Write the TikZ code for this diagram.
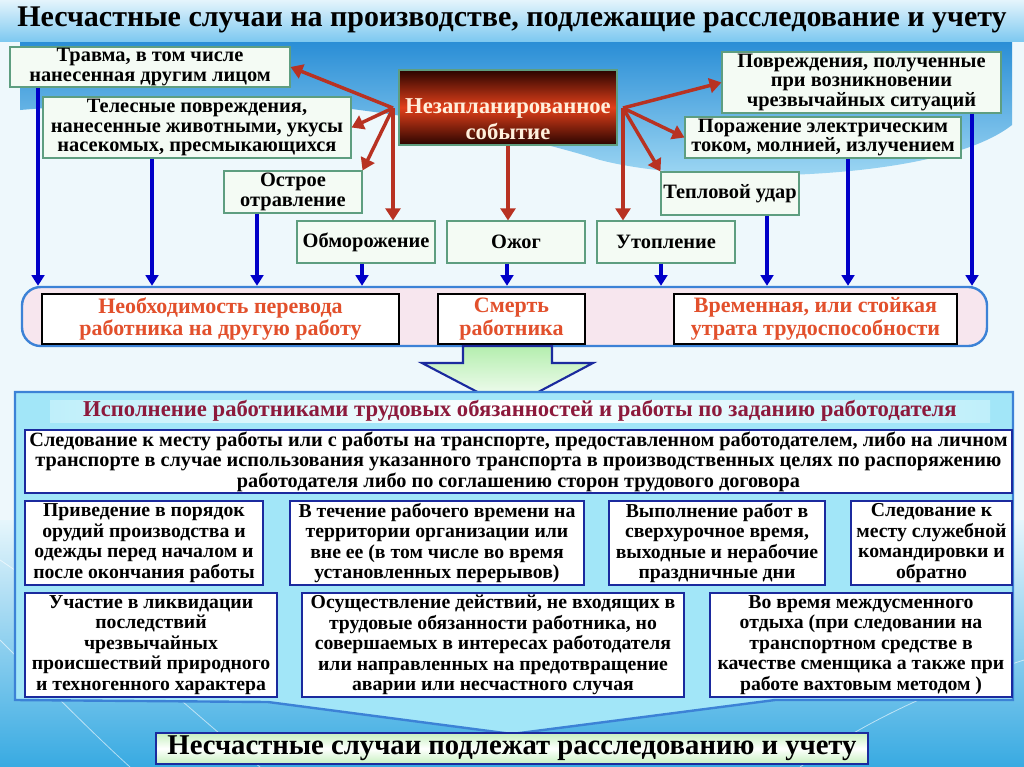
\documentclass[tikz,border=0pt]{standalone}
\usepackage{fontspec}
\setmainfont{Liberation Serif}
\usetikzlibrary{arrows.meta}
\definecolor{bgpale}{HTML}{EEF8FC}
\definecolor{bandtop}{HTML}{E4F4FC}
\definecolor{bandlow}{HTML}{7CC8F0}
\definecolor{swooshtop}{HTML}{2A8ED6}
\definecolor{swooshlow}{HTML}{A6DCF5}
\definecolor{seatop}{HTML}{E6F6FC}
\definecolor{sealow}{HTML}{38AAE2}
\definecolor{boxgreen}{HTML}{5E9E80}
\definecolor{boxfill}{HTML}{F4FBF4}
\definecolor{evdark}{HTML}{2A0400}
\definecolor{evred}{HTML}{E2401A}
\definecolor{evtext}{HTML}{FFF0DC}
\definecolor{arrred}{HTML}{B83222}
\definecolor{arrblue}{HTML}{0000C8}
\definecolor{outline}{HTML}{3C82D6}
\definecolor{outfill}{HTML}{F7E6EE}
\definecolor{outtext}{HTML}{E2502C}
\definecolor{lowfill}{HTML}{A2E6F8}
\definecolor{lowline}{HTML}{1B2A9E}
\definecolor{headtext}{HTML}{8C1A3C}
\definecolor{headside}{HTML}{BFEFFA}
\definecolor{finalgreen}{HTML}{C6F0BE}
\definecolor{bigarrtop}{HTML}{B4EEAE}
\begin{document}
\begin{tikzpicture}[x=0.75pt,y=0.75pt,yscale=-1,
  sz/.style 2 args={minimum width=#1*0.75pt,minimum height=#2*0.75pt},
  topbox/.style={draw=boxgreen,fill=boxfill,line width=0.8pt,inner sep=0pt,align=center,
    font=\fontsize{15.3}{14.4}\selectfont\bfseries},
  resultbox/.style={draw=black,fill=white,line width=2.2pt,inner sep=0pt,align=center,
    text=outtext,font=\fontsize{16.5}{17}\selectfont\bfseries},
  lowbox/.style={draw=lowline,fill=white,line width=2.2pt,inner sep=0pt,align=center,
    font=\fontsize{14.8}{15.4}\selectfont\bfseries},
  redarr/.style={draw=arrred,line width=2.6pt,-{Triangle[length=9pt,width=11pt]}},
  bluearr/.style={draw=arrblue,line width=2.4pt,-{Triangle[length=8pt,width=9.5pt]}}]
\useasboundingbox (0,0) rectangle (1024,767);
\fill[bgpale] (0,0) rectangle (1024,767);
\shade[top color=seatop,bottom color=sealow] (0,520) rectangle (1024,767);
\shade[top color=swooshtop,bottom color=swooshlow] (20,42) -- (1012,42) -- (1012,125) .. controls (940,182) and (700,186) .. (600,160) .. controls (480,122) and (250,84) .. (70,100) -- (70,106) -- (20,110) -- cycle;
\shade[top color=bandtop,bottom color=bandlow] (0,0) rectangle (1024,42);
\draw[white,line width=0.6pt,opacity=0.6] (0,560) .. controls (120,640) and (200,720) .. (260,767);
\draw[white,line width=0.6pt,opacity=0.6] (0,640) .. controls (60,700) and (100,740) .. (130,767);
\draw[white,line width=0.6pt,opacity=0.6] (1024,660) .. controls (900,700) and (840,740) .. (800,767);

\node[font=\fontsize{22.5}{24}\selectfont\bfseries] (title) at (512,20) {Несчастные случаи на производстве, подлежащие расследование и учету};

\node[topbox,sz={280}{40}] (trauma) at (150,67) {Травма, в том числе\\нанесенная другим лицом};
\node[topbox,sz={308}{61}] (injury) at (197,127.5) {Телесные повреждения,\\нанесенные животными, укусы\\насекомых, пресмыкающихся};
\node[topbox,sz={138}{42}] (poison) at (293,192) {Острое\\отравление};
\node[topbox,sz={138}{42}] (frost) at (366,242) {Обморожение};
\node[topbox,sz={138}{42}] (burn) at (516,242) {Ожог};
\node[topbox,sz={138}{42}] (drown) at (666,242) {Утопление};
\node[topbox,sz={138}{43}] (heat) at (730,193.5) {Тепловой удар};
\node[topbox,sz={276}{41}] (elec) at (823,137.5) {Поражение электрическим\\током, молнией, излучением};
\node[topbox,sz={279}{61}] (emerg) at (861.5,82.5) {Повреждения, полученные\\при возникновении\\чрезвычайных ситуаций};
\node[draw=boxgreen,line width=0.8pt,top color=evdark,bottom color=evdark,middle color=evred,
  sz={218}{75},inner sep=0pt] (event) at (508,107.5) {};
\node[align=center,text=evtext,inner sep=0pt,font=\fontsize{17}{19.5}\selectfont\bfseries] (eventtext) at (508,119) {Незапланированное\\событие};

\coordinate (hubL) at (393,108);
\coordinate (hubR) at (623,108);
\draw[redarr] (hubL) -- (trauma.east);
\draw[redarr] (hubL) -- (injury.east);
\draw[redarr] (hubL) -- (poison.north east);
\draw[redarr] (hubL) -- (hubL |- frost.north);
\draw[redarr] (event.south) -- (event.south |- burn.north);
\draw[redarr] (hubR) -- (emerg.west);
\draw[redarr] (hubR) -- (elec.west);
\draw[redarr] (hubR) -- (heat.north west);
\draw[redarr] (hubR) -- (hubR |- drown.north);

\node[draw=outline,fill=outfill,line width=1.8pt,rounded corners=14pt,sz={965}{59}] (outcome) at (504.5,316.5) {};
\node[resultbox,sz={357}{50}] (transfer) at (220.5,319) {Необходимость перевода\\работника на другую работу};
\node[resultbox,sz={147}{50}] (death) at (511.5,319) {Смерть\\работника};
\node[resultbox,sz={283}{50}] (disab) at (815.5,319) {Временная, или стойкая\\утрата трудоспособности};

\draw[bluearr] (38,0 |- trauma.south) -- (38,0 |- outcome.north);
\draw[bluearr] (152,0 |- injury.south) -- (152,0 |- outcome.north);
\draw[bluearr] (257,0 |- poison.south) -- (257,0 |- outcome.north);
\draw[bluearr] (362,0 |- frost.south) -- (362,0 |- outcome.north);
\draw[bluearr] (507,0 |- burn.south) -- (507,0 |- outcome.north);
\draw[bluearr] (661,0 |- drown.south) -- (661,0 |- outcome.north);
\draw[bluearr] (767,0 |- heat.south) -- (767,0 |- outcome.north);
\draw[bluearr] (848,0 |- elec.south) -- (848,0 |- outcome.north);
\draw[bluearr] (972,0 |- emerg.south) -- (972,0 |- outcome.north);

\shade[top color=bigarrtop,bottom color=white,draw=lowline,line width=1.6pt] (463,346) -- (552,346) -- (552,363) -- (593,363) -- (508,408) -- (422,363) -- (463,363) -- cycle;

\draw[draw=outline,fill=lowfill,line width=1.8pt] (15,392) -- (1013,392) -- (1013,700) -- (775,700) -- (512,734) -- (268,702) -- (15,700) -- cycle;

\node[left color=headside,right color=headside,middle color=white,sz={940}{22},inner sep=0pt,
  text=headtext,font=\fontsize{17}{18}\selectfont\bfseries] (duty) at (520,411) {Исполнение работниками трудовых обязанностей и работы по заданию работодателя};
\node[lowbox,sz={987}{63},font=\fontsize{15.2}{15.4}\selectfont\bfseries] (commute) at (518.5,461.5) {Следование к месту работы или с работы на транспорте, предоставленном работодателем, либо на личном\\транспорте в случае использования указанного транспорта в производственных целях по распоряжению\\работодателя либо по соглашению сторон трудового договора};
\node[lowbox,sz={238}{84}] (order) at (144,543) {Приведение в порядок\\орудий производства и\\одежды перед началом и\\после окончания работы};
\node[lowbox,sz={294}{84}] (worktime) at (437,543) {В течение рабочего времени на\\территории организации или\\вне ее (в том числе во время\\установленных перерывов)};
\node[lowbox,sz={216}{84}] (overtime) at (717,543) {Выполнение работ в\\сверхурочное время,\\выходные и нерабочие\\праздничные дни};
\node[lowbox,sz={161}{84}] (trip) at (931.5,543) {Следование к\\месту служебной\\командировки и\\обратно};
\node[lowbox,sz={252}{104}] (liquid) at (151,645) {Участие в ликвидации\\последствий\\чрезвычайных\\происшествий природного\\и техногенного характера};
\node[lowbox,sz={382}{104}] (rescue) at (493,645) {Осуществление действий, не входящих в\\трудовые обязанности работника, но\\совершаемых в интересах работодателя\\или направленных на предотвращение\\аварии или несчастного случая};
\node[lowbox,sz={302}{104}] (rest) at (861,645) {Во время междусменного\\отдыха (при следовании на\\транспортном средстве в\\качестве сменщика а также при\\работе вахтовым методом )};

\node[draw=lowline,line width=2.2pt,top color=finalgreen,bottom color=finalgreen,middle color=white,
  sz={712}{31},inner sep=0pt,font=\fontsize{21.5}{22}\selectfont\bfseries] (final) at (512,748.5) {Несчастные случаи подлежат расследованию и учету};
\end{tikzpicture}
\end{document}
